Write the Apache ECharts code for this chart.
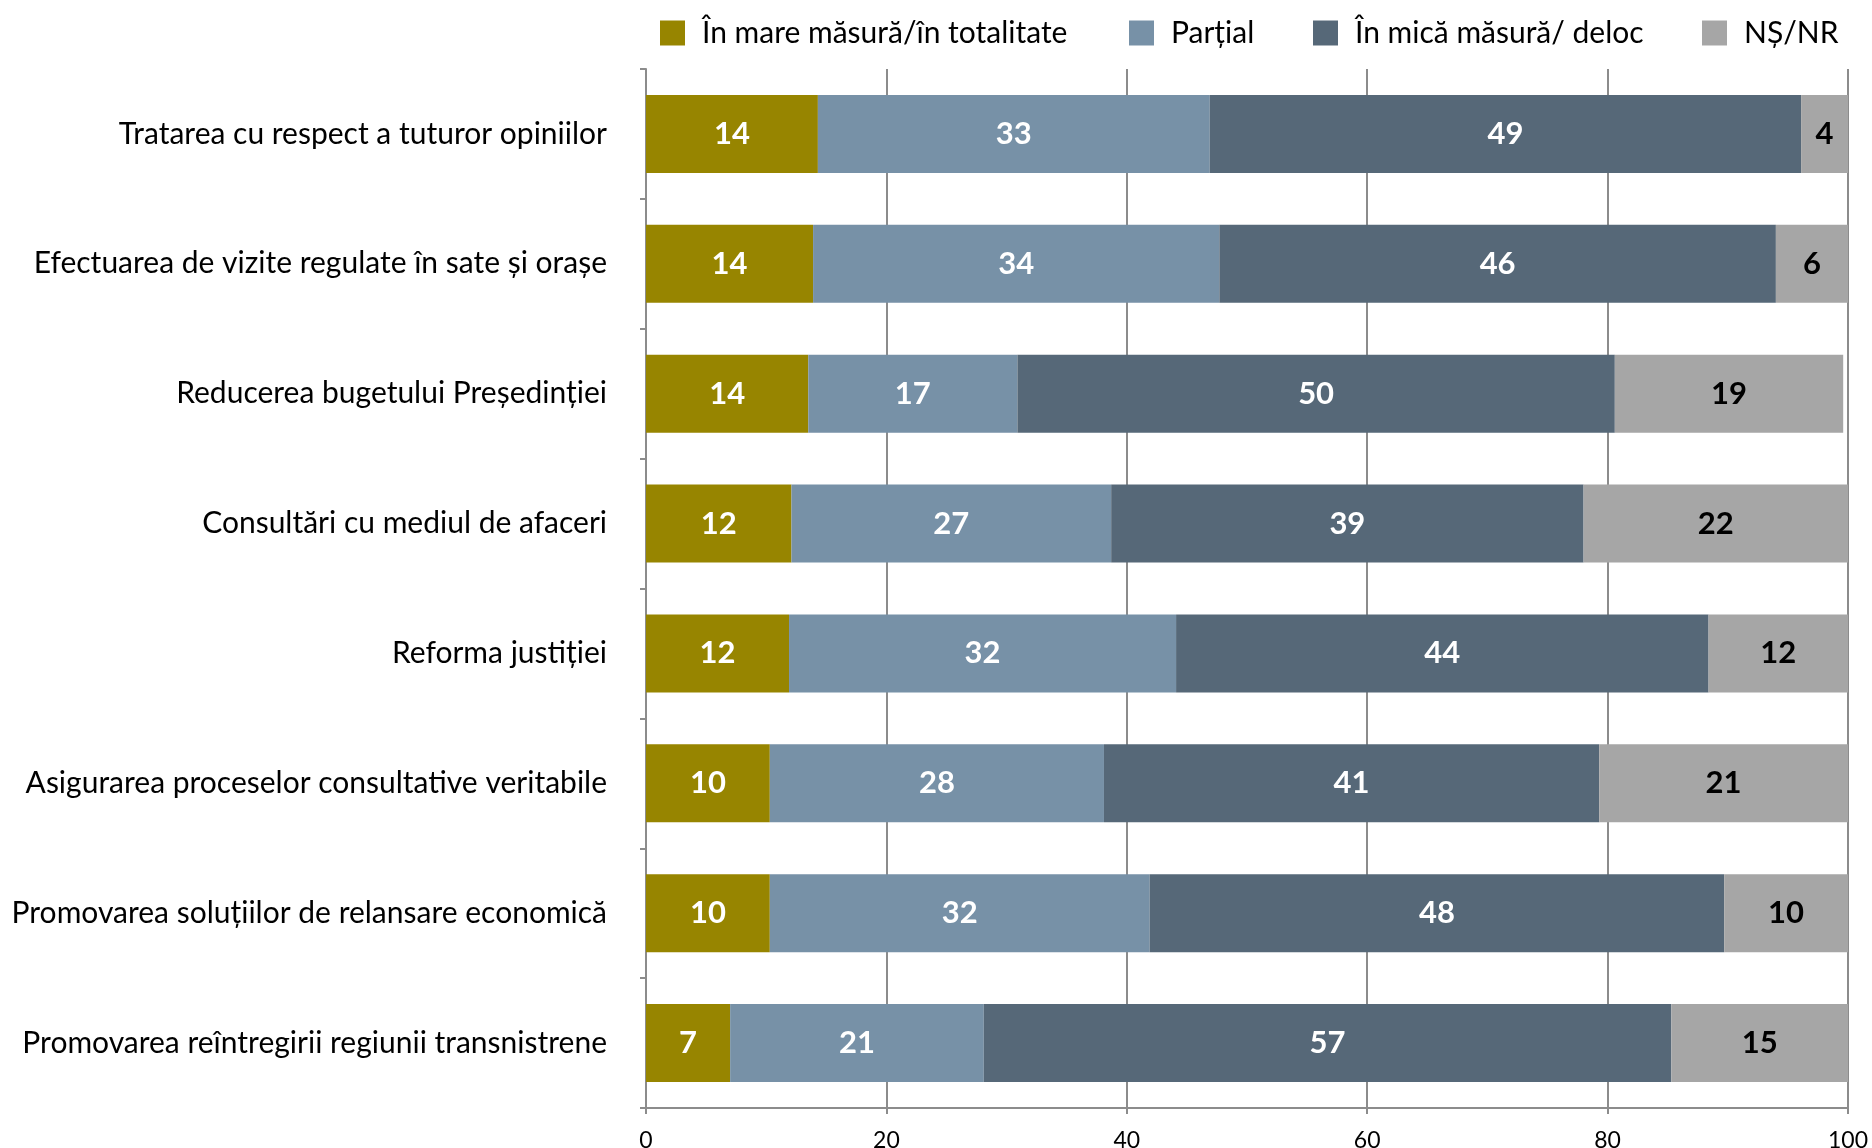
<!DOCTYPE html>
<html>
<head>
<meta charset="utf-8">
<script src="https://cdn.jsdelivr.net/npm/echarts@6/dist/echarts.min.js"></script>
<style>
html,body{margin:0;padding:0;background:#fff;}
#chart{width:1872px;height:1148px;}
</style>
</head>
<body>
<div id="chart"></div>
<script>
const categories = [
  "Tratarea cu respect a tuturor opiniilor",
  "Efectuarea de vizite regulate în sate și orașe",
  "Reducerea bugetului Președinției",
  "Consultări cu mediul de afaceri",
  "Reforma justiției",
  "Asigurarea proceselor consultative veritabile",
  "Promovarea soluțiilor de relansare economică",
  "Promovarea reîntregirii regiunii transnistrene"
];
const seriesNames = ["În mare măsură/în totalitate", "Parțial", "În mică măsură/ deloc", "NȘ/NR"];
const mare    = [14.3, 13.9, 13.5, 12.1, 11.9, 10.3, 10.3, 7.0];
const partial = [32.6, 33.8, 17.4, 26.6, 32.2, 27.8, 31.6, 21.1];
const mica    = [49.2, 46.3, 49.7, 39.3, 44.3, 41.2, 47.8, 57.2];
const nsnr    = [4.0, 6.0, 19.0, 22.2, 11.6, 20.7, 10.4, 14.7];
const xTicks  = [0, 20, 40, 60, 80, 100];

const colors = ["#978500", "#7791a7", "#566878", "#a6a6a6"];
const labelColors = ["#ffffff", "#ffffff", "#ffffff", "#000000"];
const FONT = "Lato, 'Open Sans', sans-serif";
const dataSets = [mare, partial, mica, nsnr];
const legendLefts = [660, 1129, 1313, 1702];

const chart = echarts.init(document.getElementById('chart'), null, {renderer: 'canvas'});
chart.setOption({
  animation: false,
  backgroundColor: '#ffffff',
  color: colors,
  legend: seriesNames.map((n, i) => ({
    data: [n],
    left: legendLefts[i],
    top: 18,
    itemWidth: 25,
    itemHeight: 25,
    padding: 0,
    icon: 'rect',
    textStyle: {fontFamily: FONT, fontSize: 30, color: '#000', padding: [0, 0, 0, 12]}
  })),
  grid: {left: 646, right: 24, top: 69, bottom: 40, containLabel: false, outerBoundsMode: 'none'},
  xAxis: {
    type: 'value',
    min: xTicks[0],
    max: xTicks[xTicks.length - 1],
    interval: 20,
    axisLine: {show: true, lineStyle: {color: '#8c8c8c', width: 2}},
    axisTick: {show: true, length: 6, lineStyle: {color: '#8c8c8c', width: 2}},
    axisLabel: {fontFamily: FONT, fontSize: 23, color: '#000', margin: 21},
    splitLine: {show: true, lineStyle: {color: '#8c8c8c', width: 2}}
  },
  yAxis: {
    type: 'category',
    inverse: true,
    data: categories,
    axisLine: {show: true, lineStyle: {color: '#8c8c8c', width: 2}},
    axisTick: {show: true, length: 6, lineStyle: {color: '#8c8c8c', width: 2}},
    axisLabel: {fontFamily: FONT, fontSize: 30, color: '#000', margin: 39}
  },
  series: seriesNames.map((n, i) => ({
    name: n,
    type: 'bar',
    stack: 'total',
    barCategoryGap: '40%',
    data: dataSets[i],
    itemStyle: {color: colors[i]},
    label: {
      show: true,
      position: 'inside',
      fontFamily: FONT,
      fontWeight: 'bold',
      fontSize: 31,
      color: labelColors[i],
      formatter: p => Math.round(p.value)
    }
  }))
});
</script>
</body>
</html>
